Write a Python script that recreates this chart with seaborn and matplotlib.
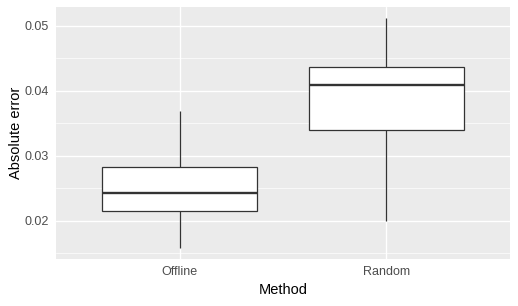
import matplotlib
matplotlib.use("Agg")
import matplotlib.pyplot as plt
import seaborn as sns
import pandas as pd

methods = ["Offline", "Random"]
offline_vals = [0.01585, 0.0214, 0.02425, 0.0283, 0.0369]
random_vals = [0.0200, 0.0339, 0.0409, 0.0437, 0.0511]
yticks = [0.02, 0.03, 0.04, 0.05]
ytick_labels = ["0.02", "0.03", "0.04", "0.05"]
yminor = [0.015, 0.025, 0.035, 0.045]

df = pd.DataFrame({
    "Method": [methods[0]] * len(offline_vals) + [methods[1]] * len(random_vals),
    "Absolute error": offline_vals + random_vals,
})

sns.set_theme(style="darkgrid")
plt.rcParams["font.family"] = ["Liberation Sans", "DejaVu Sans"]

fig = plt.figure(figsize=(5.18, 3.06), dpi=100)
ax = fig.add_axes([56/518, 1 - 259/306, (510 - 56)/518, (259 - 7)/306])
ax.set_facecolor("#EBEBEB")

sns.boxplot(data=df, x="Method", y="Absolute error", order=methods, ax=ax,
            width=0.75, color="white", linecolor="#333333", linewidth=0.9,
            whis=1.5, fliersize=2,
            medianprops=dict(color="#333333", linewidth=1.7),
            whiskerprops=dict(color="#333333", linewidth=0.9),
            capprops=dict(linewidth=0),
            boxprops=dict(facecolor="white", edgecolor="#333333", linewidth=0.9))

ax.set_xlim(-0.6, 1.6)
ax.set_ylim(0.01409, 0.05286)
ax.set_yticks(yticks)
ax.set_yticklabels(ytick_labels)
ax.set_yticks(yminor, minor=True)

ax.grid(which="major", color="white", linewidth=1.0)
ax.grid(which="minor", axis="y", color="white", linewidth=0.5)
ax.set_axisbelow(True)
for s in ax.spines.values():
    s.set_visible(False)

ax.tick_params(axis="both", which="major", length=3, width=0.8, color="#333333",
               labelcolor="#4D4D4D", labelsize=9, pad=2)
ax.tick_params(axis="y", which="minor", length=0)
ax.set_xlabel("Method", fontsize=10.5, color="black", labelpad=4)
ax.set_ylabel("Absolute error", fontsize=10.5, color="black", labelpad=1)

fig.savefig("out.png", dpi=100, facecolor="white")
